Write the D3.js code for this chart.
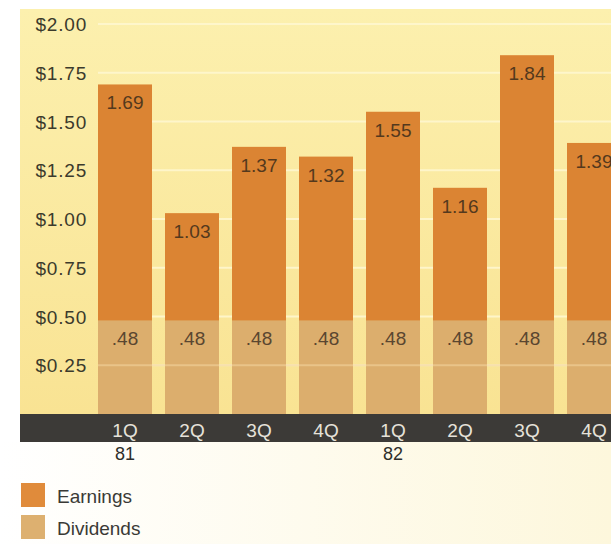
<!DOCTYPE html>
<html>
<head>
<meta charset="utf-8">
<script src="https://cdn.jsdelivr.net/npm/d3@7"></script>
<style>
  html, body { margin: 0; padding: 0; background: #ffffff; }
  svg { display: block; }
  text { font-family: "Liberation Sans", Arial, Helvetica, sans-serif; }
</style>
</head>
<body>
<svg id="chart" width="611" height="544"></svg>
<script>
// Quarterly earnings and dividends per share, 1981–1982
const quarterLabels = ["1Q", "2Q", "3Q", "4Q", "1Q", "2Q", "3Q", "4Q"];
const yearLabels = ["81", "", "", "", "82", "", "", ""];
const earnings = [1.69, 1.03, 1.37, 1.32, 1.55, 1.16, 1.84, 1.39];
const dividends = [0.48, 0.48, 0.48, 0.48, 0.48, 0.48, 0.48, 0.48];
const yTicks = [0.25, 0.50, 0.75, 1.00, 1.25, 1.50, 1.75, 2.00];
const seriesNames = ["Earnings", "Dividends"];

const W = 611, H = 544;
const colors = { Earnings: "#db8433", Dividends: "#dcae6d" };
const legendColors = { Earnings: "#e08b3b", Dividends: "#ddb070" };

const svg = d3.select("#chart");
const defs = svg.append("defs");

const panelGrad = defs.append("linearGradient")
  .attr("id", "panel").attr("x1", 0).attr("y1", 0).attr("x2", 0).attr("y2", 1);
panelGrad.append("stop").attr("offset", "0%").attr("stop-color", "#fcf0ae");
panelGrad.append("stop").attr("offset", "100%").attr("stop-color", "#f9e393");

const footGrad = defs.append("linearGradient")
  .attr("id", "foot").attr("x1", 0).attr("y1", 0).attr("x2", 1).attr("y2", 0);
footGrad.append("stop").attr("offset", "0%").attr("stop-color", "#ffffff");
footGrad.append("stop").attr("offset", "100%").attr("stop-color", "#fdf7dc");

const y = d3.scaleLinear().domain([0, 2]).range([414, 24]);
const x = d3.scaleBand()
  .domain(d3.range(quarterLabels.length))
  .range([98, 621])
  .paddingInner(0.194)
  .paddingOuter(0);

const panelLeft = 20, panelTop = 9;
const bandTop = y(0), bandBottom = 442;

// lower background
svg.append("rect").attr("x", 0).attr("y", bandBottom).attr("width", W).attr("height", H - bandBottom)
  .attr("fill", "url(#foot)");

// yellow plot panel
svg.append("rect")
  .attr("x", panelLeft).attr("y", panelTop)
  .attr("width", W - panelLeft).attr("height", bandTop - panelTop)
  .attr("fill", "url(#panel)");

// gridlines
svg.append("g").selectAll("line").data(yTicks).join("line")
  .attr("x1", x(0)).attr("x2", W)
  .attr("y1", d => y(d)).attr("y2", d => y(d))
  .attr("stroke", "#fff7cf").attr("stroke-width", 2).attr("opacity", 0.9);

// y-axis labels
const yAxis = d3.axisLeft(y).tickValues(yTicks).tickSize(0).tickPadding(0)
  .tickFormat(d => "$" + d3.format(".2f")(d));
const yG = svg.append("g").attr("transform", "translate(87,0)").call(yAxis);
yG.select(".domain").remove();
yG.selectAll("text")
  .attr("font-size", 19).attr("fill", "#3b3a2c")
  .attr("letter-spacing", "0.8px")
  .attr("dy", "0.35em")
  .style("font-family", "\"Liberation Sans\", Arial, sans-serif");

// bars: earnings column with dividends portion drawn over its base
const bars = svg.append("g").selectAll("g").data(earnings).join("g");
bars.append("rect")
  .attr("x", (d, i) => x(i)).attr("width", x.bandwidth())
  .attr("y", d => y(d)).attr("height", d => y(0) - y(d))
  .attr("fill", colors.Earnings);
bars.append("rect")
  .attr("x", (d, i) => x(i)).attr("width", x.bandwidth())
  .attr("y", (d, i) => y(dividends[i])).attr("height", (d, i) => y(0) - y(dividends[i]))
  .attr("fill", colors.Dividends);

// faint grid traces across the dividend portion
svg.append("g").selectAll("line").data(yTicks.filter(t => t < 0.48)).join("line")
  .attr("x1", x(0)).attr("x2", W)
  .attr("y1", d => y(d)).attr("y2", d => y(d))
  .attr("stroke", "#f3d39c").attr("stroke-width", 2).attr("opacity", 0.6);

// value labels
bars.append("text")
  .attr("x", (d, i) => x(i) + x.bandwidth() / 2)
  .attr("y", d => y(d) + 25)
  .attr("text-anchor", "middle")
  .attr("font-size", 19).attr("fill", "#54391d")
  .text(d => d3.format(".2f")(d));
bars.append("text")
  .attr("x", (d, i) => x(i) + x.bandwidth() / 2)
  .attr("y", (d, i) => y(dividends[i]) + 25)
  .attr("text-anchor", "middle")
  .attr("font-size", 19).attr("fill", "#5a4630")
  .text((d, i) => d3.format(".2f")(dividends[i]).replace(/^0/, ""));

// dark category band
svg.append("rect")
  .attr("x", panelLeft).attr("y", bandTop)
  .attr("width", W - panelLeft).attr("height", bandBottom - bandTop)
  .attr("fill", "#3c3a37");

const xAxis = d3.axisBottom(x).tickSize(0).tickPadding(0)
  .tickFormat(i => quarterLabels[i]);
const xG = svg.append("g").attr("transform", `translate(0,${bandTop})`).call(xAxis);
xG.select(".domain").remove();
xG.selectAll("text")
  .attr("y", 23).attr("dy", 0)
  .attr("font-size", 19).attr("fill", "#e6e2da")
  .style("font-family", "\"Liberation Sans\", Arial, sans-serif");

// year labels
svg.append("g").selectAll("text").data(yearLabels).join("text")
  .attr("x", (d, i) => x(i) + x.bandwidth() / 2)
  .attr("y", 460)
  .attr("text-anchor", "middle")
  .attr("font-size", 18).attr("fill", "#2e2e2a")
  .text(d => d);

// legend
const legend = svg.append("g").selectAll("g").data(seriesNames).join("g")
  .attr("transform", (d, i) => `translate(21,${483 + i * 32})`);
legend.append("rect")
  .attr("width", 24).attr("height", 24)
  .attr("fill", d => legendColors[d]);
legend.append("text")
  .attr("x", 36).attr("y", 20)
  .attr("font-size", 19).attr("fill", "#3a3a36")
  .text(d => d);
</script>
</body>
</html>
